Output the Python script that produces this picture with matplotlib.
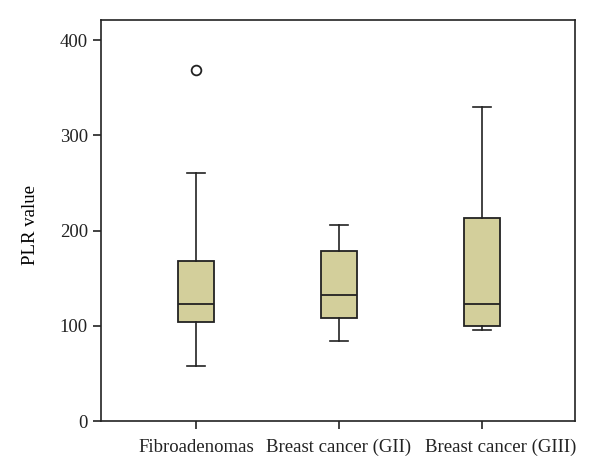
import matplotlib
matplotlib.use("Agg")
import matplotlib.pyplot as plt
import matplotlib.transforms as mtransforms

categories = ["Fibroadenomas", "Breast cancer (GII)", "Breast cancer (GIII)"]
whislo = [58, 84, 96]
q1 = [104, 108, 100]
med = [123, 132, 123]
q3 = [168, 178, 213]
whishi = [260, 206, 330]
fliers = [[368], [], []]

plt.rcParams['font.family'] = ['Liberation Serif', 'DejaVu Serif']

fig = plt.figure(figsize=(6.0, 4.76), dpi=100)
ax = fig.add_axes([101/600, 1-421/476, 474/600, 401/476])

stats = []
for i, c in enumerate(categories):
    stats.append(dict(label=c, whislo=whislo[i], q1=q1[i], med=med[i],
                      q3=q3[i], whishi=whishi[i], fliers=fliers[i]))

ec = "#222222"
ax.bxp(stats, positions=[1, 2, 3], widths=0.25, patch_artist=True,
       boxprops=dict(facecolor="#D3CF9B", edgecolor=ec, linewidth=1.3),
       medianprops=dict(color=ec, linewidth=1.3),
       whiskerprops=dict(color=ec, linewidth=1.2),
       capprops=dict(color=ec, linewidth=1.2),
       capwidths=0.125,
       flierprops=dict(marker='o', markerfacecolor='white', markeredgecolor=ec,
                       markersize=7, markeredgewidth=1.3))

ax.set_xlim(0.336, 3.65)
ax.set_ylim(0, 421)
ax.set_yticks([0, 100, 200, 300, 400])
ax.set_xticks([1, 2, 3])
ax.set_xticklabels(categories)
for s in ax.spines.values():
    s.set_linewidth(1.2)
    s.set_color(ec)
ax.tick_params(direction='out', length=6, width=1.2, labelsize=13.5, colors=ec)
ax.tick_params(axis='x', pad=7)
ax.set_ylabel("PLR value", fontsize=13.5)
ax.yaxis.set_label_coords(-0.13, 0.49)

# shift last tick label to the right as in the reference
offset = mtransforms.ScaledTranslation(0.19, 0, fig.dpi_scale_trans)
lbl = ax.get_xticklabels()[2]
lbl.set_transform(lbl.get_transform() + offset)

fig.savefig("out.png", dpi=100)
